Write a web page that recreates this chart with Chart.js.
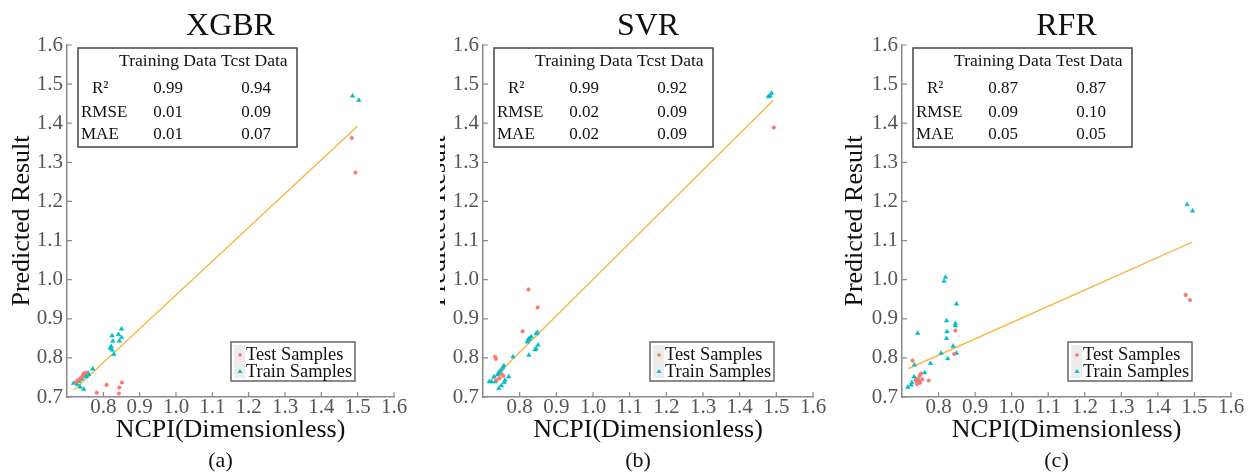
<!DOCTYPE html>
<html>
<head>
<meta charset="utf-8">
<script src="https://cdn.jsdelivr.net/npm/chart.js@4.4.0/dist/chart.umd.min.js"></script>
<style>
body { margin: 0; background: #fff; width: 1249px; height: 476px; overflow: hidden; position: relative; }
canvas { position: absolute; top: 0; }
</style>
</head>
<body>
<canvas id="chartXGBR" width="440" height="476" style="left:0px"></canvas>
<canvas id="chartSVR" width="400" height="476" style="left:440px"></canvas>
<canvas id="chartRFR" width="409" height="476" style="left:840px"></canvas>
<script>
// tick labels shared by the three panels
const xTicks = [0.8, 0.9, 1.0, 1.1, 1.2, 1.3, 1.4, 1.5, 1.6];
const yTicks = [0.7, 0.8, 0.9, 1.0, 1.1, 1.2, 1.3, 1.4, 1.5, 1.6];
const metricNames = ['R\u00b2', 'RMSE', 'MAE'];

// (a) XGBR
const xgbrTestX = [0.752, 0.746, 0.743, 0.737, 0.730, 0.725, 0.782, 0.809, 0.851, 0.844, 0.843, 1.484, 1.494];
const xgbrTestY = [0.762, 0.760, 0.754, 0.748, 0.743, 0.738, 0.711, 0.731, 0.737, 0.724, 0.709, 1.362, 1.274];
const xgbrTrainX = [0.850, 0.842, 0.824, 0.850, 0.844, 0.826, 0.822, 0.819, 0.824, 0.829, 0.771, 0.758, 0.746, 0.750, 0.741, 0.737, 0.733, 0.728, 0.718, 0.736, 0.746, 0.760, 0.753, 1.486, 1.503];
const xgbrTrainY = [0.874, 0.860, 0.857, 0.852, 0.843, 0.843, 0.829, 0.825, 0.820, 0.809, 0.772, 0.761, 0.758, 0.755, 0.748, 0.745, 0.740, 0.733, 0.735, 0.726, 0.720, 0.757, 0.752, 1.470, 1.459];
const xgbrFitX = [0.719, 1.500];
const xgbrFitY = [0.718, 1.393];
const xgbrTrainMetric = ['0.99', '0.01', '0.01'];
const xgbrTestMetric = ['0.94', '0.09', '0.07'];

// (b) SVR
const svrTestX = [0.824, 0.849, 0.808, 0.733, 0.735, 0.751, 0.755, 0.737, 0.745, 1.493];
const svrTestY = [0.975, 0.929, 0.868, 0.803, 0.797, 0.759, 0.754, 0.743, 0.748, 1.389];
const svrTrainX = [0.848, 0.845, 0.832, 0.827, 0.823, 0.821, 0.825, 0.850, 0.845, 0.842, 0.825, 0.782, 0.757, 0.754, 0.750, 0.745, 0.742, 0.740, 0.770, 0.760, 0.758, 0.750, 0.743, 0.730, 0.723, 0.717, 0.733, 1.478, 1.483, 1.487];
const svrTrainY = [0.865, 0.862, 0.854, 0.850, 0.846, 0.841, 0.848, 0.833, 0.824, 0.821, 0.807, 0.803, 0.780, 0.775, 0.770, 0.765, 0.761, 0.757, 0.752, 0.743, 0.737, 0.729, 0.722, 0.752, 0.739, 0.739, 0.739, 1.468, 1.470, 1.477];
const svrFitX = [0.719, 1.491];
const svrFitY = [0.739, 1.458];
const svrTrainMetric = ['0.99', '0.02', '0.02'];
const svrTestMetric = ['0.92', '0.09', '0.09'];

// (c) RFR
const rfrTestX = [0.846, 0.843, 0.729, 0.748, 0.752, 0.741, 0.745, 0.738, 0.741, 0.749, 0.773, 0.755, 1.476, 1.488];
const rfrTestY = [0.870, 0.810, 0.793, 0.754, 0.760, 0.745, 0.739, 0.742, 0.733, 0.736, 0.742, 0.745, 0.961, 0.948];
const rfrTrainX = [0.819, 0.815, 0.849, 0.822, 0.846, 0.846, 0.823, 0.822, 0.840, 0.743, 0.807, 0.849, 0.825, 0.778, 0.734, 0.762, 0.733, 0.738, 0.745, 0.727, 0.725, 0.716, 0.742, 1.480, 1.495];
const rfrTrainY = [1.006, 0.996, 0.938, 0.895, 0.888, 0.882, 0.867, 0.850, 0.830, 0.863, 0.812, 0.812, 0.798, 0.786, 0.782, 0.762, 0.752, 0.746, 0.744, 0.737, 0.731, 0.725, 0.740, 1.192, 1.176];
const rfrFitX = [0.718, 1.494];
const rfrFitY = [0.773, 1.096];
const rfrTrainMetric = ['0.87', '0.09', '0.05'];
const rfrTestMetric = ['0.87', '0.10', '0.05'];

const testColor = '#f8766d';
const trainColor = '#00bfc4';
const fitColor = '#f7b84b';
const serif = '"Liberation Serif", "Times New Roman", serif';

function pts(xs, ys) {
    return xs.map(function(x, i) { return { x: x, y: ys[i] }; });
}

// titles, inset table, legend and inward ticks
const panelDecor = {
    id: 'panelDecor',
    afterDraw: function(chart, args, o) {
        const ctx = chart.ctx;
        const a = chart.chartArea;
        const xs = chart.scales.x, ys = chart.scales.y;
        const cx = (a.left + a.right) / 2;
        ctx.save();

        // inward tick marks
        ctx.strokeStyle = '#8a8a8a';
        ctx.lineWidth = 1.2;
        ctx.beginPath();
        xTicks.forEach(function(v) {
            const px = xs.getPixelForValue(v);
            ctx.moveTo(px, a.bottom); ctx.lineTo(px, a.bottom - 5);
        });
        yTicks.forEach(function(v) {
            const py = ys.getPixelForValue(v);
            ctx.moveTo(a.left, py); ctx.lineTo(a.left + 5, py);
        });
        ctx.stroke();

        ctx.fillStyle = '#111';
        ctx.textAlign = 'center';
        ctx.textBaseline = 'alphabetic';
        ctx.font = '32px ' + serif;
        ctx.fillText(o.title, cx, 35);
        ctx.font = '26px ' + serif;
        ctx.fillText('NCPI(Dimensionless)', cx, 437);
        ctx.font = '22px ' + serif;
        ctx.fillText(o.caption, cx - 10, 467);

        ctx.save();
        ctx.translate(a.left - o.yTitleGap, (a.top + a.bottom) / 2);
        ctx.rotate(-Math.PI / 2);
        ctx.font = '26px ' + serif;
        ctx.textBaseline = 'middle';
        ctx.fillText('Predicted Result', 0, 0);
        ctx.restore();

        // metrics table
        const tl = a.left + 11, tt = 48;
        ctx.fillStyle = '#fff';
        ctx.fillRect(tl, tt, 219, 99);
        ctx.strokeStyle = '#444';
        ctx.lineWidth = 1.5;
        ctx.strokeRect(tl, tt, 219, 99);
        ctx.fillStyle = '#111';
        ctx.font = '17.6px ' + serif;
        ctx.textAlign = 'left';
        ctx.fillText(o.header, tl + 41, 66);
        ctx.font = '17px ' + serif;
        const rowY = [93, 117, 139];
        metricNames.forEach(function(name, i) {
            ctx.textAlign = 'left';
            ctx.fillText(name, tl + (i === 0 ? 14 : 3), rowY[i]);
            ctx.textAlign = 'center';
            ctx.fillText(o.trainMetric[i], tl + 90, rowY[i]);
            ctx.fillText(o.testMetric[i], tl + 178, rowY[i]);
        });

        // legend
        const lw = 124, lh = 39;
        const ll = a.right - 39 - lw, lt = 342;
        ctx.fillStyle = '#fff';
        ctx.fillRect(ll, lt, lw, lh);
        ctx.fillStyle = '#ececec';
        ctx.fillRect(ll + 3, lt + 3, 11, lh - 6);
        ctx.strokeStyle = '#666';
        ctx.lineWidth = 1.5;
        ctx.strokeRect(ll, lt, lw, lh);
        ctx.fillStyle = testColor;
        ctx.beginPath();
        ctx.arc(ll + 9, 355, 1.8, 0, Math.PI * 2);
        ctx.fill();
        ctx.fillStyle = trainColor;
        ctx.beginPath();
        ctx.moveTo(ll + 9, 369); ctx.lineTo(ll + 11.5, 373); ctx.lineTo(ll + 6.5, 373);
        ctx.closePath();
        ctx.fill();
        ctx.fillStyle = '#111';
        ctx.font = '18.4px ' + serif;
        ctx.textAlign = 'left';
        ctx.fillText('Test Samples', ll + 15, 360);
        ctx.fillText('Train Samples', ll + 15, 377);

        ctx.restore();
    }
};

function makeChart(id, o) {
    new Chart(document.getElementById(id).getContext('2d'), {
        type: 'scatter',
        data: {
            datasets: [{
                label: 'Fit',
                type: 'line',
                data: pts(o.fitX, o.fitY),
                borderColor: fitColor,
                borderWidth: 1.5,
                pointRadius: 0,
                showLine: true,
                fill: false,
                order: 3
            }, {
                label: 'Train Samples',
                data: pts(o.trainX, o.trainY),
                pointStyle: 'triangle',
                pointRadius: 2.6,
                backgroundColor: trainColor,
                borderColor: trainColor,
                borderWidth: 0.5,
                order: 2
            }, {
                label: 'Test Samples',
                data: pts(o.testX, o.testY),
                pointStyle: 'circle',
                pointRadius: 1.8,
                backgroundColor: testColor,
                borderColor: testColor,
                borderWidth: 0.5,
                order: 1
            }]
        },
        options: {
            responsive: false,
            animation: false,
            devicePixelRatio: 1,
            layout: { padding: { left: 0, right: o.rightPad, top: 45, bottom: 0 } },
            plugins: {
                legend: { display: false },
                tooltip: { enabled: false },
                panelDecor: o
            },
            scales: {
                x: {
                    type: 'linear',
                    min: 0.7, max: 1.6,
                    afterBuildTicks: function(s) { s.ticks = xTicks.map(function(v) { return { value: v }; }); },
                    afterFit: function(s) { s.height = 79; },
                    grid: { display: false, drawTicks: false },
                    border: { display: true, color: '#8a8a8a', width: 1.5 },
                    ticks: {
                        padding: -2,
                        color: '#555',
                        font: { family: serif, size: 21 },
                        maxRotation: 0,
                        autoSkip: false,
                        callback: function(v) { return v.toFixed(1); }
                    }
                },
                y: {
                    type: 'linear',
                    min: 0.7, max: 1.6,
                    afterBuildTicks: function(s) { s.ticks = yTicks.map(function(v) { return { value: v }; }); },
                    afterFit: function(s) { s.width = o.yWidth; },
                    grid: { display: false, drawTicks: false },
                    border: { display: true, color: '#8a8a8a', width: 1.5 },
                    ticks: {
                        padding: 4,
                        color: '#555',
                        font: { family: serif, size: 21 },
                        autoSkip: false,
                        callback: function(v) { return v.toFixed(1); }
                    }
                }
            }
        },
        plugins: [panelDecor]
    });
}

document.addEventListener('DOMContentLoaded', function() {
    makeChart('chartXGBR', {
        title: 'XGBR', caption: '(a)', header: 'Training Data Tcst Data',
        testX: xgbrTestX, testY: xgbrTestY, trainX: xgbrTrainX, trainY: xgbrTrainY,
        fitX: xgbrFitX, fitY: xgbrFitY, trainMetric: xgbrTrainMetric, testMetric: xgbrTestMetric,
        yWidth: 67, rightPad: 46, yTitleGap: 45
    });
    makeChart('chartSVR', {
        title: 'SVR', caption: '(b)', header: 'Training Data Tcst Data',
        testX: svrTestX, testY: svrTestY, trainX: svrTrainX, trainY: svrTrainY,
        fitX: svrFitX, fitY: svrFitY, trainMetric: svrTrainMetric, testMetric: svrTestMetric,
        yWidth: 43, rightPad: 27, yTitleGap: 45
    });
    makeChart('chartRFR', {
        title: 'RFR', caption: '(c)', header: 'Training Data Test Data',
        testX: rfrTestX, testY: rfrTestY, trainX: rfrTrainX, trainY: rfrTrainY,
        fitX: rfrFitX, fitY: rfrFitY, trainMetric: rfrTrainMetric, testMetric: rfrTestMetric,
        yWidth: 62, rightPad: 18, yTitleGap: 47
    });
});
</script>
</body>
</html>
